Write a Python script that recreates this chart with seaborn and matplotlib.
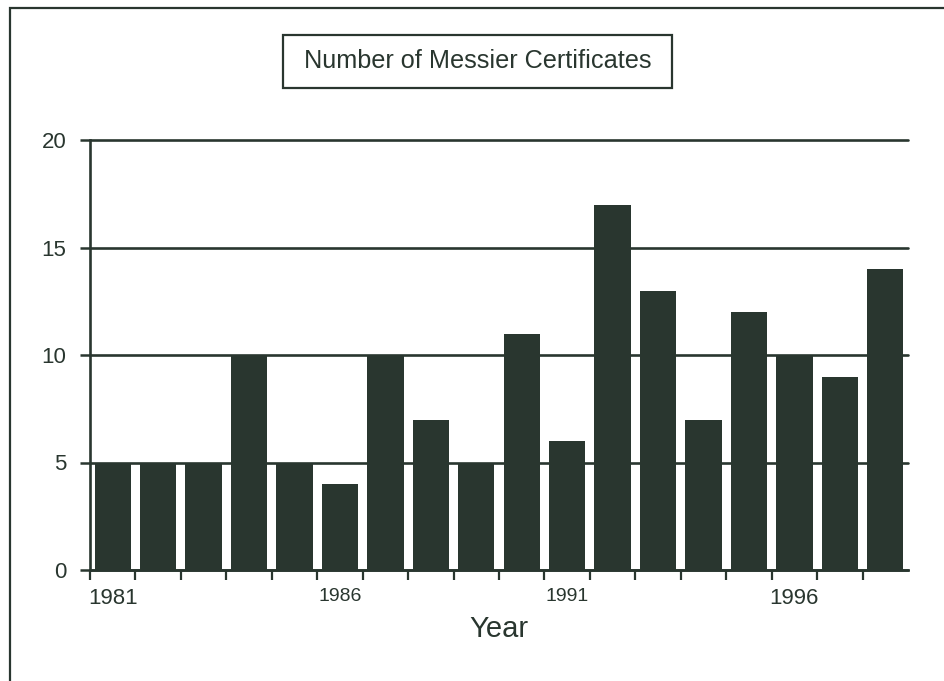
import matplotlib
matplotlib.use('Agg')
import matplotlib.pyplot as plt
import numpy as np
import pandas as pd
import seaborn as sns
from matplotlib.patches import Rectangle

# chart data
years = [1981, 1982, 1983, 1984, 1985, 1986, 1987, 1988, 1989,
         1990, 1991, 1992, 1993, 1994, 1995, 1996, 1997, 1998]
certificates = [5, 5, 5, 10, 5, 4, 10, 7, 5, 11, 6, 17, 13, 7, 12, 10, 9, 14]
shown_years = ['1981', '1986', '1991', '1996']
y_ticks = [0, 5, 10, 15, 20]

ink = '#29362f'

sns.set_style('white')
plt.rcParams['font.family'] = ['Liberation Sans', 'DejaVu Sans']

df = pd.DataFrame({'year': years, 'count': certificates})

fig = plt.figure(figsize=(9.44, 6.81), dpi=100)
ax = fig.add_axes([90 / 944, 1 - 570 / 681, 818 / 944, 430 / 681])

sns.barplot(data=df, x='year', y='count', color=ink, saturation=1,
            width=0.8, linewidth=0, ax=ax, zorder=3)

ax.set_xlim(-0.5, 17.5)
ax.set_ylim(0, 20)
ax.set_yticks(y_ticks)
ax.set_yticklabels([str(t) for t in y_ticks], fontsize=16, color=ink)
ax.tick_params(axis='y', length=7, width=1.8, color=ink, pad=10, left=True)

# boundary ticks below the axis, labels at selected bar centres
ax.set_xticks(np.arange(-0.5, 17, 1.0))
ax.set_xticklabels([])
ax.tick_params(axis='x', which='major', length=7, width=1.6, color=ink,
               bottom=True, direction='out')
label_pos = [years.index(int(y)) for y in shown_years]
ax.set_xticks(label_pos, minor=True)
ax.set_xticklabels(shown_years, minor=True)
ax.tick_params(axis='x', which='minor', length=0, pad=13, colors=ink)
for lbl in ax.get_xticklabels(minor=True):
    lbl.set_fontsize(16 if lbl.get_text() in ('1981', '1996') else 14)

ax.yaxis.grid(True, color=ink, linewidth=1.9)
ax.set_axisbelow(False)
for gl in ax.get_ygridlines():
    gl.set_zorder(1)
    gl.set_clip_on(False)

for side in ['top', 'right']:
    ax.spines[side].set_visible(False)
ax.spines['left'].set_color(ink)
ax.spines['left'].set_linewidth(1.9)
ax.spines['left'].set_zorder(4)
ax.spines['bottom'].set_color(ink)
ax.spines['bottom'].set_linewidth(1.9)

ax.set_xlabel('Year', fontsize=21, color=ink, labelpad=4)
ax.set_ylabel('')

# title in a box
fig.patches.append(Rectangle((283 / 944, 1 - 88 / 681), 389 / 944, 53 / 681,
                             transform=fig.transFigure, facecolor='white',
                             edgecolor=ink, linewidth=1.6))
fig.text(478 / 944, 1 - 61 / 681, 'Number of Messier Certificates',
         ha='center', va='center', fontsize=18.2, color=ink)

# outer frame running off the right and bottom edges
fig.patches.append(Rectangle((10 / 944, -0.1), 1.2, 1.1 - 8 / 681,
                             transform=fig.transFigure, fill=False,
                             edgecolor=ink, linewidth=1.6))

fig.savefig('out.png', dpi=100)
